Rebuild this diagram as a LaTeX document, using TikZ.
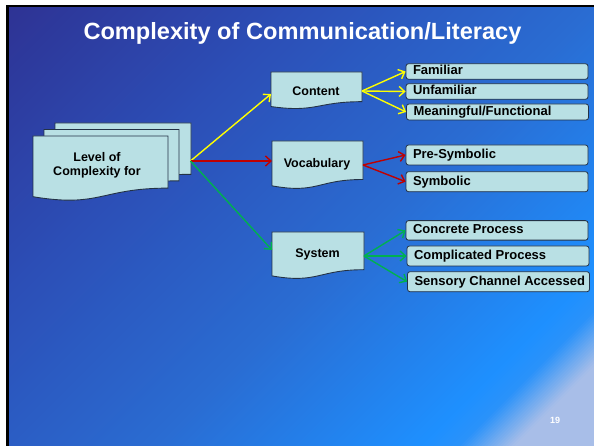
\documentclass[tikz,border=0pt]{standalone}
\usepackage{fontspec}
\setmainfont{Liberation Sans}
\usetikzlibrary{arrows.meta}
\definecolor{g0}{RGB}{46,49,146}
\definecolor{g1}{RGB}{44,78,182}
\definecolor{g2}{RGB}{42,108,210}
\definecolor{g3}{RGB}{30,144,255}
\definecolor{g4}{RGB}{42,146,250}
\definecolor{g5}{RGB}{168,190,232}
\definecolor{boxfill}{RGB}{185,224,228}
\definecolor{boxline}{RGB}{35,50,70}
\definecolor{arry}{RGB}{255,255,0}
\definecolor{arrr}{RGB}{192,0,0}
\definecolor{arrg}{RGB}{0,176,80}
\newcommand\segmix[4]{\pgfmathsetmacro\pp{(#2-\sv)/(#2-#1)*100}\colorlet{cur}{#3!\pp!#4}}
\newcommand\docshape[4]{\draw[docstyle] (#1,#2) -- ({#1+#3},#2) -- ({#1+#3},{#2+0.802*#4}) .. controls ({#1+0.5*#3},{#2+0.802*#4}) and ({#1+0.5*#3},{#2+1.107*#4}) .. (#1,{#2+0.934*#4}) -- cycle;}
\newcommand\lbl[1]{\makebox[168pt][l]{#1}}
\tikzset{
 docstyle/.style={fill=boxfill, draw=boxline, line width=0.9pt},
 doctext/.style={font=\bfseries\fontsize{12.5}{14}\selectfont, align=center, inner sep=0pt},
 rbox/.style={draw=boxline, fill=boxfill, rounded corners=2.5pt, line width=0.8pt, inner xsep=7pt, inner ysep=0pt, font=\bfseries\fontsize{13}{14}\selectfont, text height=9.3pt, text depth=2.5pt},
 conn/.style={line width=1.4pt, -{Straight Barb[length=5.5pt,width=10pt]}},
}
\begin{document}
\begin{tikzpicture}[x=1pt,y=-1pt]
\useasboundingbox (0,0) rectangle (594,446);
\fill[white] (0,0) rectangle (594,446);
\fill[black] (6,5) rectangle (594,446);
\begin{scope}
\clip (9,8) rectangle (594,446);
\foreach \i in {0,...,347}{
  \pgfmathsetmacro\sv{3*\i+1.5}
  \ifdim\sv pt<300pt \segmix{0}{300}{g0}{g1}\else
  \ifdim\sv pt<600pt \segmix{300}{600}{g1}{g2}\else
  \ifdim\sv pt<870pt \segmix{600}{870}{g2}{g3}\else
  \ifdim\sv pt<905pt \segmix{870}{905}{g3}{g4}\else
  \ifdim\sv pt<960pt \segmix{905}{960}{g4}{g5}\else
  \colorlet{cur}{g5}\fi\fi\fi\fi\fi
  \fill[cur] ({3*\i},0) -- ({3*\i+4},0) -- ({3*\i+4-1000},1000) -- ({3*\i-1000},1000) -- cycle;
}
\end{scope}

\node[anchor=base west, inner sep=0pt, text=white, font=\bfseries\fontsize{24}{28}\selectfont] (title) at (83.3,39.3) {\resizebox{438pt}{17pt}{Complexity of Communication/Literacy}};

% stacked document shapes
\docshape{55}{123}{136}{64}
\docshape{44}{129.5}{135}{64}
\docshape{33}{136}{135}{65}
\node[doctext] (level) at (97,165) {Level of\\Complexity for};

% category document shapes
\docshape{271}{72}{91}{37}
\docshape{272}{141}{91}{48}
\docshape{272}{232}{92}{47}
\node[doctext, anchor=base] (content) at (316,95.7) {Content};
\node[doctext, anchor=base] (vocab) at (317,167.3) {Vocabulary};
\node[doctext, anchor=base] (system) at (317.5,257.3) {System};

\coordinate (src) at (190.5,161);
\coordinate (contentW) at (271,94);
\coordinate (vocabW) at (272,161);
\coordinate (systemW) at (272,250);
\coordinate (contentE) at (362,91);
\coordinate (vocabE) at (363,165);
\coordinate (systemE) at (364,256);

% leaf boxes
\node[rbox, minimum height=15.5pt] (fam) at (497,71.5) {\lbl{Familiar}};
\node[rbox, minimum height=15.5pt] (unfam) at (497,91.5) {\lbl{Unfamiliar}};
\node[rbox, minimum height=16pt] (mean) at (497.5,112) {\lbl{Meaningful/Functional}};
\node[rbox, minimum height=20pt] (presym) at (497,155) {\lbl{Pre-Symbolic}};
\node[rbox, minimum height=20pt] (sym) at (497,181.7) {\lbl{Symbolic}};
\node[rbox, minimum height=19.5pt] (conc) at (497,230.4) {\lbl{Concrete Process}};
\node[rbox, minimum height=20pt] (compl) at (498,256) {\lbl{Complicated Process}};
\node[rbox, minimum height=20pt] (sens) at (498.5,281.7) {\lbl{Sensory Channel Accessed}};

% connectors
\draw[conn, arry] (src) -- (contentW);
\draw[conn, arrr] (src) -- (vocabW);
\draw[conn, arrg] (src) -- (systemW);
\draw[conn, arry] (contentE) -- (fam.west);
\draw[conn, arry] (contentE) -- (unfam.west);
\draw[conn, arry] (contentE) -- (mean.west);
\draw[conn, arrr] (vocabE) -- (presym.west);
\draw[conn, arrr] (vocabE) -- (sym.west);
\draw[conn, arrg] (systemE) -- (conc.west);
\draw[conn, arrg] (systemE) -- (compl.west);
\draw[conn, arrg] (systemE) -- (sens.west);

\node[text=white, font=\bfseries\fontsize{9}{10}\selectfont, inner sep=0pt] (page) at (555,420) {19};
\end{tikzpicture}
\end{document}
